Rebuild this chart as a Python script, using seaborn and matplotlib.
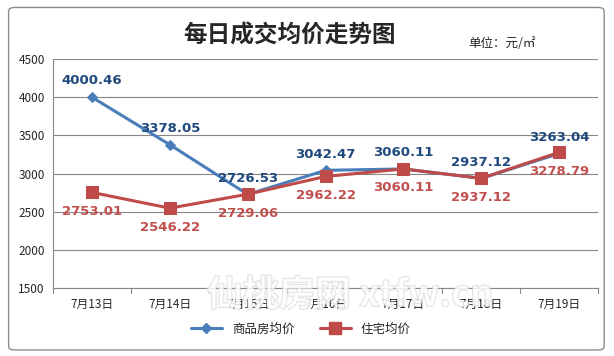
import pandas as pd
import seaborn as sns
import matplotlib.pyplot as plt
import matplotlib.patheffects as pe
from matplotlib.patches import FancyBboxPatch

# Data
dates = ['7月13日', '7月14日', '7月15日', '7月16日', '7月17日', '7月18日', '7月19日']
commercial = [4000.46, 3378.05, 2726.53, 3042.47, 3060.11, 2937.12, 3263.04]
residential = [2753.01, 2546.22, 2729.06, 2962.22, 3060.11, 2937.12, 3278.79]
series_names = ['商品房均价', '住宅均价']

sns.set_style('white')
plt.rcParams['font.family'] = ['Noto Sans CJK SC', 'DejaVu Sans']

df = pd.DataFrame({
    'pos': list(range(len(dates))) * 2,
    'price': commercial + residential,
    'series': [series_names[0]] * len(dates) + [series_names[1]] * len(dates),
})

fig = plt.figure(figsize=(6.14, 3.56), dpi=100)
fig.patch.set_facecolor('white')

# chart frame
frame = FancyBboxPatch((0.014, 0.017), 0.97, 0.962, boxstyle='round,pad=0,rounding_size=0.01',
                       transform=fig.transFigure, facecolor='none', edgecolor='#8c8c8c', lw=1.0)
fig.patches.append(frame)

ax = fig.add_axes([0.0863, 0.191, 0.888, 0.643])
ax.set_facecolor('none')

blue = '#4a7ebb'
red = '#be4b48'
sns.lineplot(data=df, x='pos', y='price', hue='series', style='series',
             palette=[blue, red], markers=['D', 's'], dashes=False,
             markersize=6, linewidth=2.2, ax=ax, legend=False)
# bigger squares for the residential series
for line, ms in zip(ax.lines, [5, 8]):
    line.set_markersize(ms)
    line.set_markeredgecolor(line.get_color())

ax.set_xlim(-0.5, len(dates) - 0.5)
ax.set_ylim(1500, 4500)
ax.set_yticks(range(1500, 4501, 500))
ax.set_xticks(range(len(dates)))
ax.set_xticklabels(dates, fontsize=8.5)
ax.tick_params(axis='y', labelsize=8.5, length=0, pad=6)
ax.tick_params(axis='x', length=0, pad=7)
ax.set_xlabel('')
ax.set_ylabel('')
ax.grid(axis='y', color='#868686', lw=0.8)
ax.set_axisbelow(True)
for side in ['top', 'right']:
    ax.spines[side].set_visible(False)
for side in ['left', 'bottom']:
    ax.spines[side].set_color('#868686')
    ax.spines[side].set_linewidth(0.8)
# category boundary ticks
for b in [i - 0.5 for i in range(len(dates) + 1)]:
    ax.plot([b, b], [0, -0.02], transform=ax.get_xaxis_transform(), color='#868686', lw=0.8, clip_on=False)

for i in range(len(dates)):
    ax.annotate(f'{commercial[i]:.2f}', (i, commercial[i]), xytext=(0, 7), textcoords='offset points',
                ha='center', va='bottom', fontsize=9.5, fontweight='bold', color='#1f497d',
                family='DejaVu Sans')
    ax.annotate(f'{residential[i]:.2f}', (i, residential[i]), xytext=(0, -9), textcoords='offset points',
                ha='center', va='top', fontsize=9.5, fontweight='bold', color='#c0504d',
                family='DejaVu Sans')

# legend
handles = [plt.Line2D([], [], color=blue, marker='D', markersize=5, lw=2.2),
           plt.Line2D([], [], color=red, marker='s', markersize=8, lw=2.2)]
fig.legend(handles, series_names, loc='center', bbox_to_anchor=(0.49, 0.075), ncol=2,
           frameon=False, fontsize=9, handlelength=2.5, columnspacing=2.0)

fig.text(0.472, 0.9, '每日成交均价走势图', ha='center', va='center', fontsize=17, fontweight='bold')
fig.text(0.763, 0.877, '单位：元/㎡', ha='left', va='center', fontsize=9)

# watermark
fig.text(0.57, 0.17, '仙桃房网 xtfw.cn', ha='center', va='center', fontsize=26,
         color='white', alpha=0.6, fontweight='bold', zorder=10,
         path_effects=[pe.withStroke(linewidth=1.2, foreground='#d0d0d0')])

fig.savefig('out.png', dpi=100)
